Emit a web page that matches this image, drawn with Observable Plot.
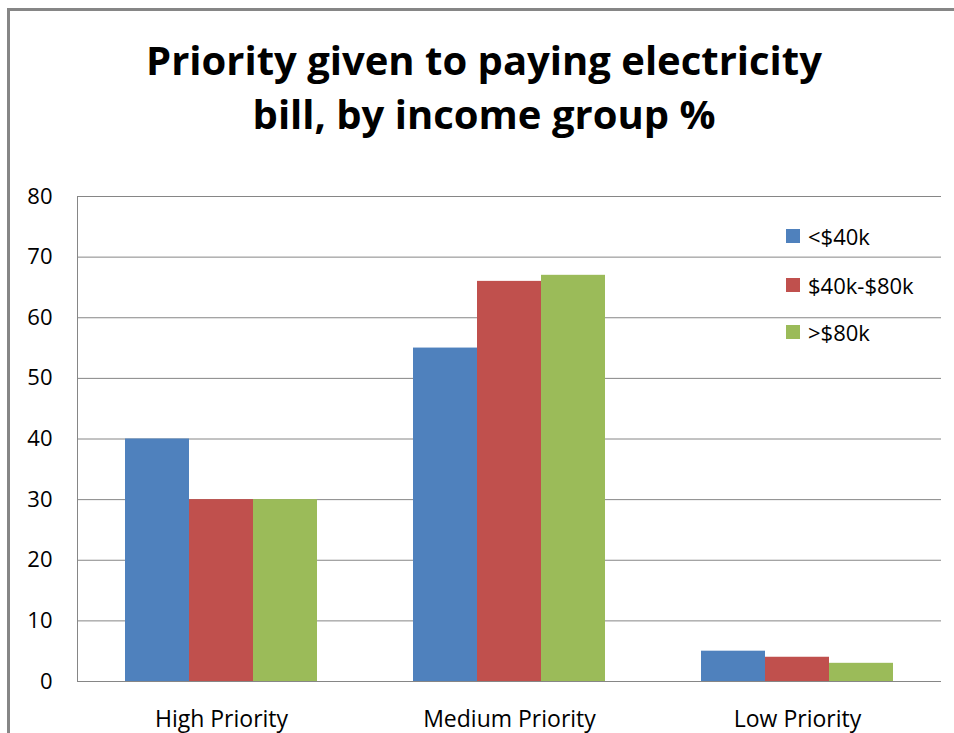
<!DOCTYPE html>
<html>
<head>
<meta charset="utf-8">
<script src="https://cdn.jsdelivr.net/npm/d3@7"></script>
<script src="https://cdn.jsdelivr.net/npm/@observablehq/plot@0.6"></script>
<style>
  html, body { margin: 0; padding: 0; background: #fff; }
  #wrap { position: relative; width: 954px; height: 733px; overflow: hidden; background: #fff; }
  #border { position: absolute; left: 7px; top: 8px; width: 1200px; height: 1200px; pointer-events: none;
            border-left: 3px solid #868686; border-top: 3px solid #868686; }
  #title { position: absolute; left: 0; top: 33px; width: 954px; padding-left: 14px; box-sizing: border-box;
           text-align: center; font-family: "Open Sans", sans-serif; font-weight: 700; font-size: 40px;
           line-height: 54px; color: #000; white-space: nowrap; }
  #chart { position: absolute; left: 0; top: 180px; }
  #legend { position: absolute; left: 786px; top: 0; font-family: "Open Sans", sans-serif; font-size: 22px; color: #000; }
  .item { position: absolute; left: 0; height: 26px; white-space: nowrap; }
  .sw { position: absolute; left: 0; top: 6px; width: 14px; height: 14px; }
  .lab { position: absolute; left: 22px; top: 0; line-height: 26px; }
</style>
</head>
<body>
<div id="wrap">
  <div id="title">Priority given to paying electricity<br>bill, by income group %</div>
  <div id="chart"></div>
  <div id="legend"></div>
  <div id="border"></div>
</div>
<script>
const categories = ["High Priority", "Medium Priority", "Low Priority"];
const groups = ["<$40k", "$40k-$80k", ">$80k"];
const under40k = [40, 55, 5];
const from40kTo80k = [30, 66, 4];
const over80k = [30, 67, 3];
const colors = ["#4F81BD", "#C0504D", "#9BBB59"];
const yTicks = [0, 10, 20, 30, 40, 50, 60, 70, 80];

const series = [under40k, from40kTo80k, over80k];
const data = categories.flatMap((c, i) => groups.map((g, j) => ({category: c, group: g, value: series[j][i]})));

const chart = Plot.plot({
  width: 954,
  height: 553,
  marginTop: 16,
  marginBottom: 52,
  marginLeft: 77,
  marginRight: 13,
  style: {fontFamily: "Open Sans, sans-serif", fontSize: "21px", color: "#000", background: "transparent", overflow: "visible"},
  fx: {domain: categories, padding: 0, label: null},
  x: {domain: groups, paddingInner: 0, paddingOuter: 0.75, axis: null},
  y: {domain: [0, 80], ticks: yTicks, label: null},
  color: {domain: groups, range: colors},
  marks: [
    Plot.ruleY(yTicks, {stroke: "#868686", strokeWidth: 1, strokeOpacity: 1}),
    Plot.frame({anchor: "left", stroke: "#868686", strokeOpacity: 1, facetAnchor: "left"}),
    Plot.barY(data, {fx: "category", x: "group", y: "value", fill: "group"}),
    Plot.axisY({ticks: yTicks, tickSize: 0, tickPadding: 25, fontSize: 22, label: null}),
    Plot.axisFx({anchor: "bottom", tickSize: 0, tickPadding: 29, fontSize: 23, label: null})
  ]
});
document.getElementById("chart").appendChild(chart);

const legend = document.getElementById("legend");
const rowCenters = [236, 285, 332];
groups.forEach((g, i) => {
  const item = document.createElement("div");
  item.className = "item";
  item.style.top = (rowCenters[i] - 13) + "px";
  const sw = document.createElement("div");
  sw.className = "sw";
  sw.style.background = chart.scale("color").apply(g);
  const lab = document.createElement("div");
  lab.className = "lab";
  lab.textContent = g;
  item.appendChild(sw);
  item.appendChild(lab);
  legend.appendChild(item);
});
</script>
</body>
</html>
